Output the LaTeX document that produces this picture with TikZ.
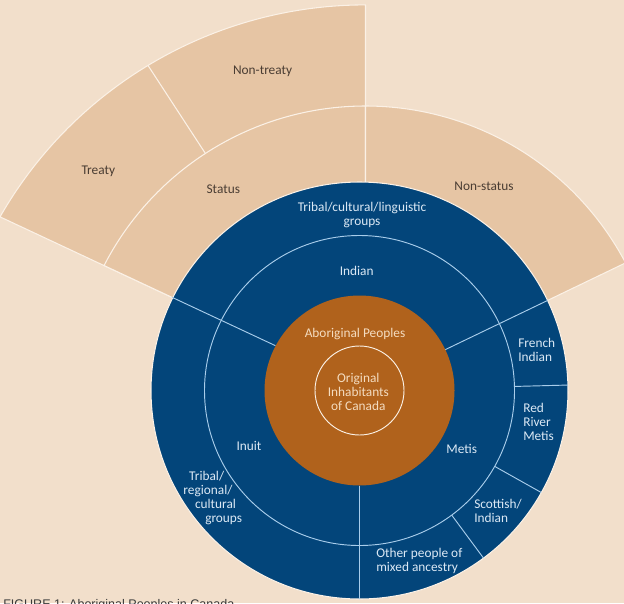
\documentclass[tikz,border=0pt]{standalone}
\usepackage{fontspec}
\setmainfont{Carlito}
\newfontfamily\capfont{Liberation Sans}
\usetikzlibrary{calc}
\definecolor{bgc}{HTML}{F2DFCB}
\definecolor{tanc}{HTML}{E6C5A4}
\definecolor{creamc}{HTML}{FBF1E6}
\definecolor{bluec}{HTML}{03457A}
\definecolor{linec}{HTML}{A9CDEB}
\definecolor{orangec}{HTML}{B0621C}
\definecolor{tantext}{HTML}{4A3D33}
\definecolor{bluetext}{HTML}{DCE9F5}
\definecolor{ortext}{HTML}{F4DCC0}
\definecolor{captext}{HTML}{3A3A3A}
\tikzset{
  tanfill/.style={fill=tanc, draw=creamc, line width=0.8pt, line join=round},
  creamline/.style={draw=creamc, line width=0.8pt},
  blueline/.style={draw=linec, line width=0.7pt},
  lbl/.style={font=\fontsize{10}{12}\selectfont, inner sep=0pt, anchor=base},
  tanlbl/.style={lbl, text=tantext},
  bluelbl/.style={lbl, text=bluetext},
  bluelbll/.style={bluelbl, anchor=base west},
  orlbl/.style={lbl, text=ortext}
}
\begin{document}
\begin{tikzpicture}[x=0.75pt,y=0.75pt]
\clip (0,0) rectangle (624,-603);
\fill[bgc] (0,0) rectangle (624,-603);
% key points
\coordinate (E) at (365.5,-388);
\coordinate (O1) at (365.5,-400);
\coordinate (O2) at (365.5,-426);
\coordinate (C) at (359.5,-390.5);
\coordinate (TL) at ($(O2)+(150.22:421.1)$);
\coordinate (SL) at ($(O1)+(152.78:294)$);
\coordinate (ST) at ($(O1)+(90:294)$);
\coordinate (D1) at ($(O1)+(123:294)$);
\coordinate (D2) at ($(O2)+(121.1:421.1)$);
% tan fan
\path[tanfill] (TL) arc[start angle=150.22, end angle=90, radius=421.1] -- (E) -- cycle;
\path[tanfill] (E) -- (SL) arc[start angle=152.78, end angle=90, radius=294] -- cycle;
\path[tanfill] (E) -- (ST) arc[start angle=90, end angle=27.8, radius=294] -- cycle;
\draw[creamline] (D1) -- (D2);
% blue disc
\fill[bluec, draw=creamc, line width=0.8pt] (C) circle[radius=208.5];
\draw[blueline] (C) circle[radius=155];
\coordinate (L1) at (172,-297.3);
\coordinate (L2) at (275.5,-345.7);
\coordinate (R1) at (547.5,-300.5);
\coordinate (R2) at (444.5,-350);
\draw[blueline] (L1) -- (L2);
\draw[blueline] (R1) -- (R2);
\coordinate (H1) at ($(C)+(1.5:155)$);
\coordinate (H2) at ($(C)+(1.5:208.5)$);
\coordinate (S1) at ($(C)+(-29.3:155)$);
\coordinate (S2) at ($(C)+(-29.3:208.5)$);
\coordinate (M1) at ($(C)+(-53.5:155)$);
\coordinate (M2) at ($(C)+(-53.5:208.5)$);
\coordinate (V1) at ($(C)+(-90:95)$);
\coordinate (V2) at ($(C)+(-90:208.5)$);
\draw[blueline] (H1) -- (H2);
\draw[blueline] (S1) -- (S2);
\draw[blueline] (M1) -- (M2);
\draw[blueline] (V1) -- (V2);
% orange disc
\fill[orangec] (C) circle[radius=95];
\draw[draw=creamc, line width=0.7pt] (C) circle[radius=44.5];
% tan labels
\node[tanlbl] (nontreaty) at (262.6,-74) {Non-treaty};
\node[tanlbl] (treaty) at (98.3,-174) {Treaty};
\node[tanlbl] (status) at (223.3,-193) {Status};
\node[tanlbl] (nonstatus) at (484,-190) {Non-status};
% blue labels
\node[bluelbl] (tcl1) at (362,-211.3) {Tribal/cultural/linguistic};
\node[bluelbl] (tcl2) at (362,-225.3) {groups};
\node[bluelbl] (indian) at (356.7,-275) {Indian};
\node[bluelbl] (inuit) at (249,-450.5) {Inuit};
\node[bluelbl] (metis) at (461.7,-453) {Metis};
\node[bluelbl] (trg1) at (206.7,-480) {Tribal/};
\node[bluelbl] (trg2) at (208,-494) {regional/};
\node[bluelbl] (trg3) at (215.5,-508) {cultural};
\node[bluelbl] (trg4) at (223.7,-522) {groups};
\node[bluelbll] (fi1) at (518,-347) {French};
\node[bluelbll] (fi2) at (518,-361) {Indian};
\node[bluelbll] (rr1) at (523,-412) {Red};
\node[bluelbll] (rr2) at (523,-426) {River};
\node[bluelbll] (rr3) at (523,-440) {Metis};
\node[bluelbll] (si1) at (474,-508) {Scottish/};
\node[bluelbll] (si2) at (474,-522) {Indian};
\node[bluelbll] (op1) at (376,-557) {Other people of};
\node[bluelbll] (op2) at (376,-571) {mixed ancestry};
% orange labels
\node[orlbl] (abo) at (355,-337.2) {Aboriginal Peoples};
\node[orlbl] (oic1) at (358.3,-382) {Original};
\node[orlbl] (oic2) at (358.3,-396) {Inhabitants};
\node[orlbl] (oic3) at (358.3,-410) {of Canada};
% caption
\node[anchor=base west, inner sep=0pt, text=captext, font=\capfont\fontsize{9.4}{11}\selectfont] (cap) at (3,-608.5) {FIGURE 1: Aboriginal Peoples in Canada};
\end{tikzpicture}
\end{document}
